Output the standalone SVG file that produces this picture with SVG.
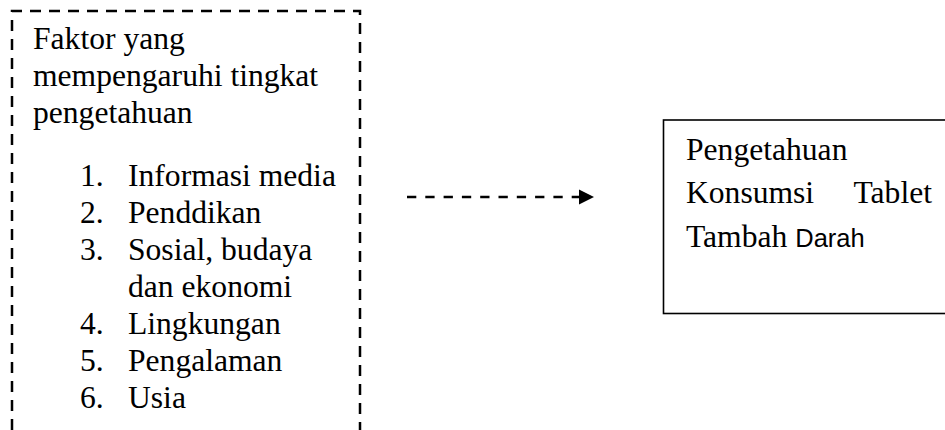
<svg xmlns="http://www.w3.org/2000/svg" width="945" height="430" viewBox="0 0 945 430">
<defs>
<style>
.t{font-family:"Liberation Serif","Times New Roman",serif;font-size:31.6px;fill:#000}
.s{font-family:"Liberation Sans",Arial,sans-serif;font-size:25.5px}
.dash{fill:none;stroke:#000;stroke-width:2.5;stroke-dasharray:11 8}
</style>
</defs>
<rect width="945" height="430" fill="#fff"/>
<g id="factors">
<path class="dash" d="M12,430 V11 H360 V430"/>
<text class="t" x="33" y="49">Faktor yang</text>
<text class="t" x="33" y="86">mempengaruhi tingkat</text>
<text class="t" x="33" y="123">pengetahuan</text>
<text class="t" x="80" y="186">1.</text><text class="t" x="128" y="186">Informasi media</text>
<text class="t" x="80" y="223">2.</text><text class="t" x="128" y="223">Penddikan</text>
<text class="t" x="80" y="260">3.</text><text class="t" x="128" y="260">Sosial, budaya</text>
<text class="t" x="128" y="297">dan ekonomi</text>
<text class="t" x="80" y="334">4.</text><text class="t" x="128" y="334">Lingkungan</text>
<text class="t" x="80" y="371">5.</text><text class="t" x="128" y="371">Pengalaman</text>
<text class="t" x="80" y="408">6.</text><text class="t" x="128" y="408">Usia</text>
</g>
<g id="connectors">
<line x1="407" y1="197" x2="580" y2="197" stroke="#000" stroke-width="2.5" stroke-dasharray="9.3 9"/>
<polygon points="579,189.5 594,197 579,204.5" fill="#000"/>
</g>
<g id="knowledge">
<rect x="663.5" y="120" width="300" height="193.5" fill="none" stroke="#000" stroke-width="1.6"/>
<text class="t" x="686" y="160">Pengetahuan</text>
<text class="t" x="686" y="203">Konsumsi</text>
<text class="t" x="932" y="203" text-anchor="end">Tablet</text>
<text class="t" x="686" y="247">Tambah <tspan class="s">Darah</tspan></text>
</g>
</svg>
